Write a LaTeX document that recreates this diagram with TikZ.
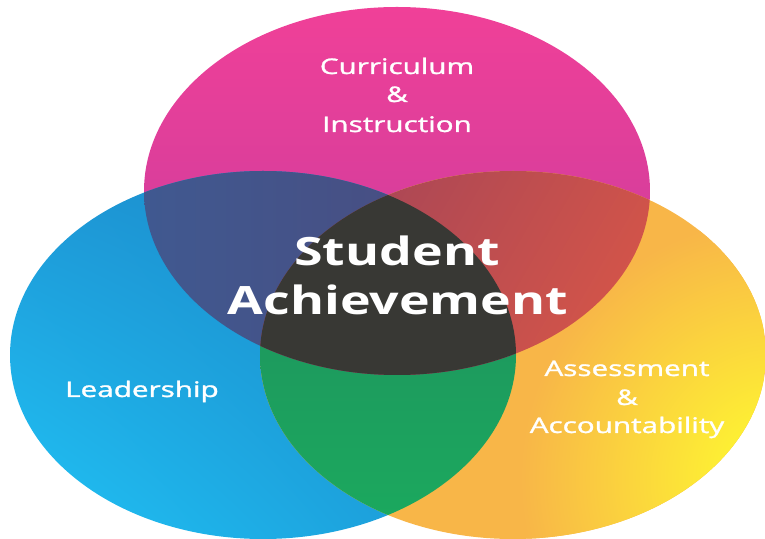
\documentclass[tikz,border=0pt]{standalone}
\usepackage{fontspec}
\setmainfont{Open Sans}
\newfontfamily\labelfont[FakeBold=1.2]{Open Sans}
\usetikzlibrary{shadings}
\definecolor{pinktop}{RGB}{240,64,152}
\definecolor{pinkbot}{RGB}{196,60,158}
\definecolor{blueul}{RGB}{30,150,213}
\definecolor{blueur}{RGB}{26,132,196}
\definecolor{bluell}{RGB}{32,196,246}
\definecolor{bluelr}{RGB}{28,150,212}
\definecolor{orangeB}{RGB}{248,182,72}
\definecolor{yellowC}{RGB}{255,255,46}
\definecolor{purpleleft}{RGB}{60,94,151}
\definecolor{purpleright}{RGB}{75,74,125}
\definecolor{redleft}{RGB}{168,70,86}
\definecolor{redright}{RGB}{234,92,66}
\definecolor{greentop}{RGB}{31,140,94}
\definecolor{greenbot}{RGB}{27,170,94}
\definecolor{core}{RGB}{56,56,52}
\begin{document}
\begin{tikzpicture}[x=1pt,y=1pt,
  ring/.style={x radius=253, y radius=184},
  small label/.style={text=white, anchor=base, xscale=1.38,
    font=\labelfont\fontsize{21.5}{24}\selectfont},
  big label/.style={text=white, anchor=base, xscale=1.33,
    font=\fontsize{39}{44}\bfseries\selectfont}]
  \useasboundingbox (0,0) rectangle (765,538);
  \coordinate (ctop) at (397,347);
  \coordinate (cleft) at (263,183);
  \coordinate (cright) at (513,183);

  % the three sets
  \shade[top color=pinktop, bottom color=pinkbot] (ctop) ellipse [ring];
  \shade[upper left=blueul, upper right=blueur, lower left=bluell, lower right=bluelr]
    (cleft) ellipse [ring];
  \fill[orangeB] (cright) ellipse [ring];
  % yellow glow in the lower right corner
  \begin{scope}
    \clip (cright) ellipse [ring];
    \shade[inner color=yellowC, outer color=orangeB] (780,60) circle (260);
  \end{scope}

  % overlaps of two sets
  \begin{scope}
    \clip (cleft) ellipse [ring];
    \shade[top color=greentop, bottom color=greenbot] (cright) ellipse [ring];
  \end{scope}
  \begin{scope}
    \clip (ctop) ellipse [ring];
    \shade[left color=purpleleft, right color=purpleright] (cleft) ellipse [ring];
  \end{scope}
  \begin{scope}
    \clip (ctop) ellipse [ring];
    \shade[left color=redleft, right color=redright, shading angle=60] (cright) ellipse [ring];
  \end{scope}

  % overlap of all three
  \begin{scope}
    \clip (ctop) ellipse [ring];
    \clip (cleft) ellipse [ring];
    \fill[core] (cright) ellipse [ring];
  \end{scope}

  % labels
  \node[small label] (curr) at (397,464) {Curriculum};
  \node[small label] (amp1) at (397,436) {\&};
  \node[small label] (instr) at (397,406) {Instruction};
  \node[big label] (student) at (397,272) {Student};
  \node[big label] (achieve) at (398,223) {Achievement};
  \node[small label] (lead) at (142,141) {Leadership};
  \node[small label] (assess) at (627,162) {Assessment};
  \node[small label] (amp2) at (627,133) {\&};
  \node[small label] (account) at (627,105) {Accountability};
\end{tikzpicture}
\end{document}
